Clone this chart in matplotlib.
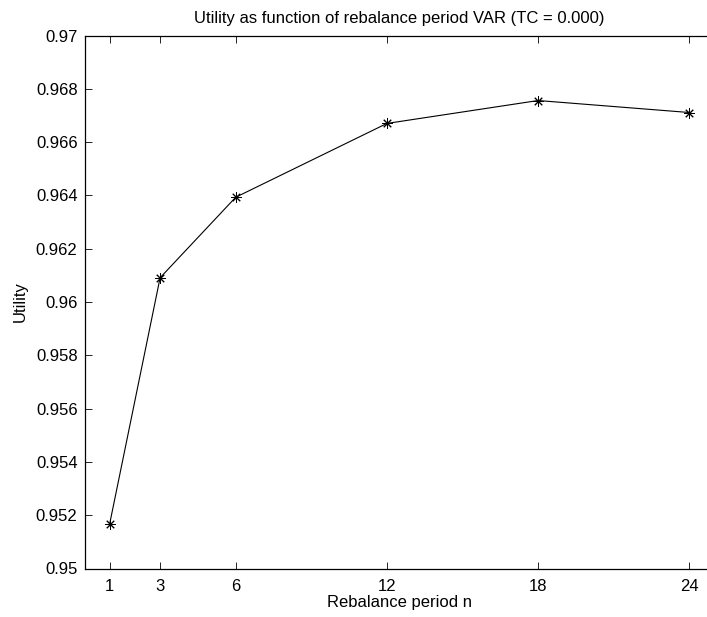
import matplotlib
matplotlib.use("Agg")
import matplotlib.pyplot as plt

# ---- Data ----
periods = [1, 3, 6, 12, 18, 24]
utility = [0.95168, 0.96091, 0.96393, 0.96670, 0.96756, 0.96711]
y_ticks = [0.95, 0.952, 0.954, 0.956, 0.958, 0.96, 0.962, 0.964, 0.966, 0.968, 0.97]
y_tick_labels = ["0.95", "0.952", "0.954", "0.956", "0.958", "0.96",
                 "0.962", "0.964", "0.966", "0.968", "0.97"]

plt.rcParams["font.family"] = ["Liberation Sans", "DejaVu Sans"]
FS = 12

fig = plt.figure(figsize=(7.07, 6.17), dpi=100)
# axes run past the right edge of the figure (as in the reference crop)
ax = fig.add_axes([84.5 / 707, (617 - 568.5) / 617, 630 / 707, 533 / 617])

# MATLAB-style '*' marker: 8-spoke asterisk
ax.plot(periods, utility, color="black", linewidth=0.8,
        marker=(8, 2, 0), markersize=7.5, markeredgewidth=0.7)

ax.set_xlim(0, 25)
ax.set_ylim(0.95, 0.97)
ax.set_xticks(periods)
ax.set_xticklabels([str(p) for p in periods])
ax.set_yticks(y_ticks)
ax.set_yticklabels(y_tick_labels)
ax.tick_params(direction="in", length=5, width=0.6, labelsize=FS,
               top=True, right=True)
ax.tick_params(axis="x", pad=7.5)
ax.tick_params(axis="y", pad=5)

for side in ax.spines.values():
    side.set_linewidth(0.9)

ax.set_title("Utility as function of rebalance period VAR (TC = 0.000)",
             fontsize=FS, pad=9)
ax.set_xlabel("Rebalance period n", fontsize=FS, labelpad=0.5)
ax.set_ylabel("Utility", fontsize=FS, labelpad=6)

fig.savefig("out.png", dpi=100)
